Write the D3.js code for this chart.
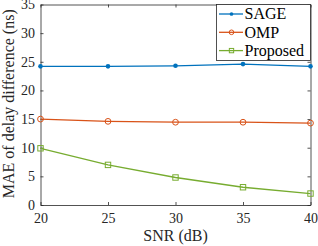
<!DOCTYPE html>
<html><head><meta charset="utf-8">
<script src="https://cdn.jsdelivr.net/npm/d3@7"></script>
<style>body{margin:0;background:#fff}svg{display:block}</style>
</head><body>
<script>
const snr = [20, 25, 30, 35, 40];
const sage = [24.2, 24.2, 24.3, 24.6, 24.2];
const omp = [15.0, 14.6, 14.45, 14.45, 14.3];
const proposed = [9.9, 7.0, 4.8, 3.1, 2.0];
const xTicks = [20, 25, 30, 35, 40];
const yTicks = [0, 5, 10, 15, 20, 25, 30, 35];
const seriesNames = ["SAGE", "OMP", "Proposed"];
const colors = ["#0072BD", "#D95319", "#77AC30"];
const markers = ["dot", "circle", "square"];

const W = 318, H = 246;
const m = {l: 40.5, r: 7.5, t: 4.5, b: 41};
const svg = d3.select("body").append("svg").attr("width", W).attr("height", H);
const x = d3.scaleLinear().domain([20, 40]).range([m.l, W - m.r]);
const y = d3.scaleLinear().domain([0, 35]).range([H - m.b, m.t]);
const font = "'Liberation Serif', serif";
const fsTick = 14, fsLab = 16, fsLeg = 16;
const axc = "#262626";

const gx = svg.append("g").attr("transform", `translate(0,${H - m.b})`)
  .call(d3.axisBottom(x).tickValues(xTicks).tickSizeInner(-3).tickSizeOuter(0).tickPadding(8.5));
const gy = svg.append("g").attr("transform", `translate(${m.l},0)`)
  .call(d3.axisLeft(y).tickValues(yTicks).tickSizeInner(-3).tickSizeOuter(0).tickPadding(5.5));
const gxt = svg.append("g").attr("transform", `translate(0,${m.t})`)
  .call(d3.axisTop(x).tickValues(xTicks).tickSizeInner(-3).tickSizeOuter(0).tickFormat(""));
const gyr = svg.append("g").attr("transform", `translate(${W - m.r},0)`)
  .call(d3.axisRight(y).tickValues(yTicks).tickSizeInner(-3).tickSizeOuter(0).tickFormat(""));
[gx, gy, gxt, gyr].forEach(g => {
  g.selectAll("path,line").attr("stroke", axc).attr("stroke-width", 0.8);
  g.selectAll("text").attr("font-family", font).attr("font-size", fsTick).attr("fill", axc);
});

svg.append("text").attr("x", (m.l + W - m.r) / 2).attr("y", 241)
  .attr("text-anchor", "middle").attr("font-family", font).attr("font-size", fsLab)
  .attr("fill", axc).text("SNR (dB)");
svg.append("text").attr("transform", `translate(14,${(m.t + H - m.b) / 2 - 1}) rotate(-90)`)
  .attr("text-anchor", "middle").attr("font-family", font).attr("font-size", fsLab)
  .attr("fill", axc).text("MAE of delay difference (ns)");

const data = [sage, omp, proposed];
const line = d3.line().x((d, i) => x(snr[i])).y(d => y(d));

function drawMarker(g, type, cx, cy, color, s) {
  if (type === "dot") g.append("circle").attr("cx", cx).attr("cy", cy).attr("r", 2.3 * s).attr("fill", color);
  else if (type === "circle") g.append("circle").attr("cx", cx).attr("cy", cy).attr("r", 2.9 * s)
    .attr("fill", "none").attr("stroke", color).attr("stroke-width", 1);
  else g.append("rect").attr("x", cx - 2.7 * s).attr("y", cy - 2.7 * s).attr("width", 5.4 * s).attr("height", 5.4 * s)
    .attr("fill", "none").attr("stroke", color).attr("stroke-width", 1);
}

data.forEach((vals, k) => {
  const g = svg.append("g");
  g.append("path").datum(vals).attr("d", line).attr("fill", "none")
    .attr("stroke", colors[k]).attr("stroke-width", 1.3);
  vals.forEach((v, i) => drawMarker(g, markers[k], x(snr[i]), y(v), colors[k], 1));
});

// legend
const lg = svg.append("g");
lg.append("rect").attr("x", 216.5).attr("y", 4.5).attr("width", 94).attr("height", 56)
  .attr("fill", "#fff").attr("stroke", axc).attr("stroke-width", 0.8);
seriesNames.forEach((name, k) => {
  const yy = 14 + k * 18.3;
  lg.append("line").attr("x1", 219).attr("x2", 243).attr("y1", yy).attr("y2", yy)
    .attr("stroke", colors[k]).attr("stroke-width", 1.3);
  drawMarker(lg, markers[k], 231.5, yy, colors[k], 0.8);
  lg.append("text").attr("x", 244.5).attr("y", yy + 5.2).attr("font-family", font)
    .attr("font-size", fsLeg).attr("fill", "#000").text(name);
});
</script>
</body></html>
